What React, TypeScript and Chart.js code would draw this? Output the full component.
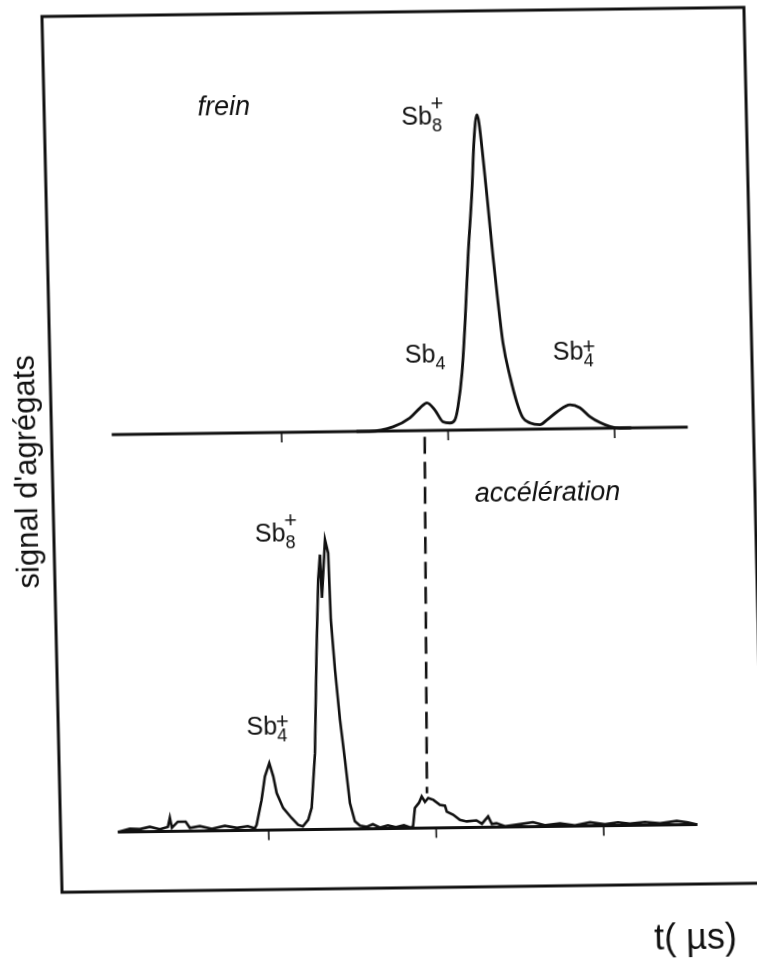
import { useEffect, useRef } from "react";
import { Chart, registerables } from "chart.js";

Chart.register(...registerables);

// Time of flight (µs, arbitrary origin) and cluster signal, retarding field ("frein")
const freinTime = [1.45, 1.53, 1.67, 1.773, 1.835, 1.877, 1.924, 1.971, 2.013, 2.043, 2.063, 2.092, 2.117, 2.144, 2.177, 2.196, 2.217, 2.228, 2.247, 2.271, 2.294, 2.318, 2.342, 2.38, 2.418, 2.451, 2.493, 2.553, 2.596, 2.657, 2.736, 2.795, 2.855, 2.914, 2.973, 3.03, 3.1];
const freinSignal = [0, 0, 1.3, 4.1, 7.2, 8.8, 6.5, 2.7, 2.3, 3.3, 7.4, 18.2, 34.0, 55.0, 76.2, 92.1, 100, 97.5, 86.7, 70.8, 54.9, 40.3, 27.5, 16.7, 8.4, 3.7, 2.0, 1.4, 2.9, 5.4, 7.6, 6.6, 3.7, 1.8, 0.5, 0, 0];

// Time of flight and cluster signal, accelerating field ("accélération")
const accelTime = [0.1, 0.172, 0.232, 0.291, 0.351, 0.399, 0.412, 0.423, 0.459, 0.506, 0.53, 0.59, 0.661, 0.739, 0.811, 0.876, 0.918, 0.929, 0.962, 0.985, 1.013, 1.035, 1.053, 1.09, 1.139, 1.177, 1.205, 1.238, 1.26, 1.287, 1.31, 1.33, 1.344, 1.35, 1.376, 1.393, 1.4, 1.418, 1.441, 1.465, 1.489, 1.516, 1.546, 1.587, 1.623, 1.665, 1.712, 1.76, 1.808, 1.85, 1.863, 1.876, 1.901, 1.918, 1.937, 1.957, 1.987, 2.026, 2.056, 2.066, 2.104, 2.143, 2.183, 2.242, 2.274, 2.312, 2.333, 2.361, 2.411, 2.501, 2.579, 2.65, 2.74, 2.829, 2.919, 3.008, 3.086, 3.157, 3.247, 3.337, 3.437, 3.504, 3.558];
const accelSignal = [0, 0.95, 0.8, 1.5, 0.7, 1.4, 4.3, 1.1, 3.0, 3.0, 1.0, 1.5, 0.6, 1.5, 0.8, 1.3, 0.6, 1.7, 9.6, 17.0, 21.2, 17.0, 11.7, 6.9, 3.7, 1.5, 1.0, 3.1, 6.9, 24.2, 56.0, 79.2, 87.2, 73.5, 91.9, 87.7, 66.5, 50.6, 34.7, 22.0, 8.2, 2.4, 1.0, 0.6, 1.4, 0.3, 1.0, 0.35, 0.95, 0.1, 0.7, 6.4, 8.0, 10.0, 8.3, 9.5, 8.9, 7.3, 7.0, 5.1, 4.1, 2.4, 1.9, 2.2, 1.1, 3.4, 1.0, 1.2, 0.2, 0.8, 1.4, 0.35, 0.9, 0.2, 1.1, 0.4, 1.0, 0.5, 1.0, 0.5, 1.2, 0.7, 0];

// Time ticks and extent of each zero line
const freinTicks = [1, 2, 3];
const accelTicks = [1, 2, 3];
const freinAxisSpan = [-0.02, 3.44];
const accelAxisSpan = [0.1, 3.56];

// Neutral Sb4 correlation: from the frein zero line down to the accélération trace
const sb4LinkFrein = { t: 1.859, s: -2 };
const sb4LinkAccel = { t: 1.95, s: 11 };

const INK = "#111111";
const SANS = '"Liberation Sans", Arial, Helvetica, sans-serif';

type IonLabel = { panel: "frein" | "accel"; t: number; s: number; sub: string; sup: string };
const ionLabels: IonLabel[] = [
  { panel: "frein", t: 1.763, s: 97.1, sub: "8", sup: "+" },
  { panel: "frein", t: 1.751, s: 21.5, sub: "4", sup: "" },
  { panel: "frein", t: 2.64, s: 21.9, sub: "4", sup: "+" },
  { panel: "accel", t: 0.958, s: 91.6, sub: "8", sup: "+" },
  { panel: "accel", t: 0.882, s: 30.3, sub: "4", sup: "+" },
];

type ModeLabel = { panel: "frein" | "accel"; t: number; s: number; text: string };
const modeLabels: ModeLabel[] = [
  { panel: "frein", t: 0.541, s: 100.8, text: "frein" },
  { panel: "accel", t: 2.276, s: 103.4, text: "accélération" },
];

const overlay = {
  id: "tofOverlay",
  beforeDatasetsDraw(chart: any) {
    const { ctx, chartArea: a, scales } = chart;
    ctx.save();
    ctx.strokeStyle = INK;
    ctx.lineCap = "butt";
    // frame
    ctx.lineWidth = 3;
    ctx.strokeRect(a.left, a.top, a.right - a.left, a.bottom - a.top);

    const zeroLine = (sx: any, sy: any, span: number[], ticks: number[]) => {
      const y0 = sy.getPixelForValue(0);
      ctx.lineWidth = 3;
      ctx.beginPath();
      ctx.moveTo(sx.getPixelForValue(span[0]), y0);
      ctx.lineTo(sx.getPixelForValue(span[1]), y0);
      ctx.stroke();
      ctx.lineWidth = 1.6;
      for (const t of ticks) {
        const px = sx.getPixelForValue(t);
        ctx.beginPath();
        ctx.moveTo(px, y0);
        ctx.lineTo(px, y0 + 10);
        ctx.stroke();
      }
    };
    zeroLine(scales.x, scales.y, freinAxisSpan, freinTicks);
    zeroLine(scales.x2, scales.y2, accelAxisSpan, accelTicks);

    // dashed link between the two Sb4 signals
    ctx.lineWidth = 2.6;
    ctx.setLineDash([17, 8]);
    ctx.beginPath();
    ctx.moveTo(scales.x.getPixelForValue(sb4LinkFrein.t), scales.y.getPixelForValue(sb4LinkFrein.s));
    ctx.lineTo(scales.x2.getPixelForValue(sb4LinkAccel.t), scales.y2.getPixelForValue(sb4LinkAccel.s));
    ctx.stroke();
    ctx.setLineDash([]);
    ctx.restore();
  },
  afterDatasetsDraw(chart: any) {
    const { ctx, chartArea: a, scales } = chart;
    const px = (panel: string, t: number, s: number) =>
      panel === "frein"
        ? [scales.x.getPixelForValue(t), scales.y.getPixelForValue(s)]
        : [scales.x2.getPixelForValue(t), scales.y2.getPixelForValue(s)];
    ctx.save();
    ctx.fillStyle = INK;
    ctx.textBaseline = "alphabetic";
    ctx.textAlign = "left";

    for (const l of ionLabels) {
      const [x, y] = px(l.panel, l.t, l.s);
      ctx.font = `25px ${SANS}`;
      ctx.fillText("Sb", x, y);
      const w = ctx.measureText("Sb").width;
      ctx.font = `18px ${SANS}`;
      ctx.fillText(l.sub, x + w, y + 7);
      if (l.sup) {
        ctx.font = `22px ${SANS}`;
        ctx.fillText(l.sup, x + w - 1, y - (l.sub === "8" ? 14 : 6));
      }
    }

    ctx.font = `italic 27px ${SANS}`;
    for (const m of modeLabels) {
      const [x, y] = px(m.panel, m.t, m.s);
      ctx.fillText(m.text, x, y);
    }

    // axis titles
    ctx.save();
    ctx.translate(a.left - 25, (a.top + a.bottom) / 2 + 17);
    ctx.rotate(-Math.PI / 2);
    ctx.textAlign = "center";
    ctx.textBaseline = "middle";
    ctx.font = `31px ${SANS}`;
    ctx.fillText("signal d'agrégats", 0, 0);
    ctx.restore();

    ctx.font = `36px ${SANS}`;
    ctx.fillText("t( µs)", a.right - 111, a.bottom + 65);
    ctx.restore();
  },
};

export default function App() {
  const ref = useRef<HTMLCanvasElement>(null);

  useEffect(() => {
    const canvas = ref.current;
    if (!canvas) return;
    const chart = new Chart(canvas, {
      type: "line",
      data: {
        datasets: [
          {
            label: "frein",
            data: freinTime.map((t, i) => ({ x: t, y: freinSignal[i] })),
            xAxisID: "x",
            yAxisID: "y",
            borderColor: INK,
            borderWidth: 2.8,
            pointRadius: 0,
            cubicInterpolationMode: "monotone",
            fill: false,
          },
          {
            label: "accélération",
            data: accelTime.map((t, i) => ({ x: t, y: accelSignal[i] })),
            xAxisID: "x2",
            yAxisID: "y2",
            borderColor: INK,
            borderWidth: 2.6,
            pointRadius: 0,
            tension: 0,
            fill: false,
          },
        ],
      } as any,
      options: {
        responsive: false,
        animation: false,
        devicePixelRatio: 1,
        events: [],
        layout: { padding: { left: 52, top: 12, right: 3, bottom: 74 } },
        plugins: {
          legend: { display: false },
          tooltip: { enabled: false },
          title: { display: false },
        },
        scales: {
          x: { type: "linear", display: false, min: -0.3814, max: 3.8348 },
          x2: { type: "linear", axis: "x", display: false, min: -0.2418, max: 3.9493 },
          y: { type: "linear", display: false, min: -145.08, max: 133.02 },
          y2: { type: "linear", axis: "y", display: false, min: -18.92, max: 259.17 },
        },
      } as any,
      plugins: [overlay],
    });
    return () => chart.destroy();
  }, []);

  return (
    <div
      style={{
        position: "fixed",
        left: 0,
        top: 0,
        width: 757,
        height: 962,
        overflow: "hidden",
        background: "#fff",
      }}
    >
      <div
        style={{
          width: 757,
          height: 962,
          transformOrigin: "400px 450px",
          transform: "matrix(1, -0.013, 0.0229, 1, 0, 0)",
        }}
      >
        <canvas ref={ref} width={757} height={962} style={{ display: "block" }} />
      </div>
    </div>
  );
}
